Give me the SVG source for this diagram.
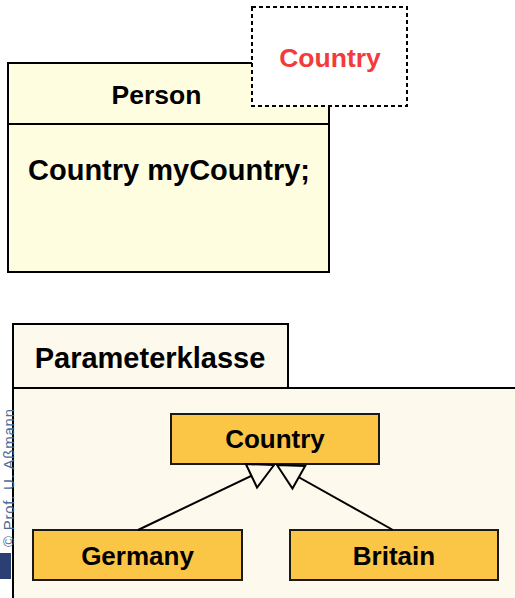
<svg xmlns="http://www.w3.org/2000/svg" width="515" height="598" viewBox="0 0 515 598">
<style>
text{font-family:"Liberation Sans",Arial,sans-serif;font-weight:bold;fill:#000;}
.cls{fill:#FBC546;stroke:#1a1a1a;stroke-width:2;}
.conn{stroke:#000;stroke-width:2;fill:none;}
</style>
<defs>
<marker id="gen" viewBox="-28 -15 30 30" refX="0" refY="0" markerWidth="30" markerHeight="30" markerUnits="userSpaceOnUse" orient="auto">
<path d="M0,0 L-25,-13 L-25,13 Z" fill="#FDF9EC" stroke="#000" stroke-width="2" stroke-linejoin="miter"/>
</marker>
</defs>
<rect width="515" height="598" fill="#fff"/>
<g id="person">
<rect x="8" y="63" width="321" height="209" fill="#FFFDE0" stroke="#000" stroke-width="2"/>
<line x1="8" y1="124" x2="329" y2="124" stroke="#000" stroke-width="2"/>
<text x="156.5" y="104" text-anchor="middle" font-size="26.5">Person</text>
<text x="169" y="180" text-anchor="middle" font-size="29">Country myCountry;</text>
</g>
<g id="template-param">
<rect x="252" y="7" width="155" height="99" fill="#fff" stroke="#000" stroke-width="2" stroke-dasharray="4 3"/>
<text x="330" y="67" text-anchor="middle" font-size="26.5" style="fill:#F23B3B">Country</text>
</g>
<g id="parameterklasse">
<rect x="13" y="324" width="275" height="64" fill="#FDF9EC" stroke="#000" stroke-width="2"/>
<rect x="13" y="388" width="530" height="240" fill="#FDF9EC" stroke="#000" stroke-width="2"/>
<text x="150" y="368" text-anchor="middle" font-size="29">Parameterklasse</text>
</g>
<g id="watermark">
<text transform="translate(14,547) rotate(-90)" textLength="138" lengthAdjust="spacing" style="font-weight:normal;fill:#4B6B9C;font-size:15px;">© Prof. U. Aßmann</text>
<rect x="0" y="553" width="11" height="26" fill="#2B3F73"/>
</g>
<g id="country">
<rect class="cls" x="171" y="414" width="208" height="50"/>
<text x="275" y="448" text-anchor="middle" font-size="26">Country</text>
</g>
<g id="germany">
<rect class="cls" x="33" y="530" width="209" height="50"/>
<text x="137.5" y="565" text-anchor="middle" font-size="26">Germany</text>
</g>
<g id="britain">
<rect class="cls" x="290" y="530" width="208" height="50"/>
<text x="394" y="565" text-anchor="middle" font-size="26">Britain</text>
</g>
<g id="connectors">
<path class="conn" d="M138,530 L274,465" marker-end="url(#gen)"/>
<path class="conn" d="M393,530 L277,465" marker-end="url(#gen)"/>
</g>
</svg>
